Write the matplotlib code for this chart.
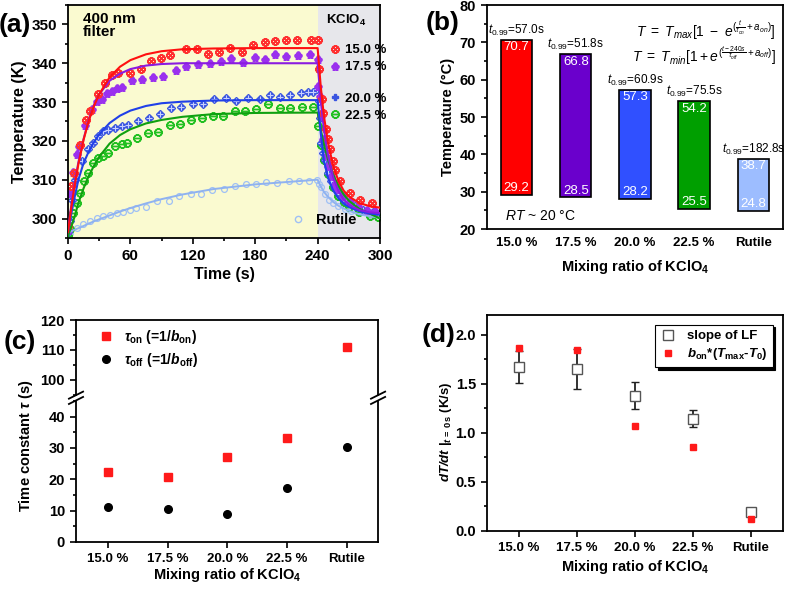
import matplotlib
matplotlib.use('Agg')
import matplotlib.pyplot as plt
from matplotlib.ticker import MultipleLocator
from matplotlib.lines import Line2D

plt.rcParams['font.family'] = ['Liberation Sans', 'DejaVu Sans']
plt.rcParams['mathtext.fontset'] = 'custom'
plt.rcParams['mathtext.rm'] = 'Liberation Sans'
plt.rcParams['mathtext.it'] = 'Liberation Sans:italic'
plt.rcParams['mathtext.bf'] = 'Liberation Sans:italic:bold'
plt.rcParams['mathtext.sf'] = 'Liberation Sans:bold'
plt.rcParams['axes.linewidth'] = 1.3

# ---------------- data: panel (a) ----------------
red_t = [0, 3, 6, 11.6, 17, 21, 29, 36, 42, 48, 60, 70, 80, 89, 98, 113, 124, 135, 145, 156, 167, 178,
         189, 199, 210, 220, 234, 240, 241.6, 244, 245.5, 248, 250.3, 252, 254.5, 256.7, 261.5, 271, 281, 292]
red_T = [298, 308.3, 311.8, 319, 325.5, 327.7, 332, 335, 337.1, 337.6, 337.6, 338.6, 340.5, 341.4, 342,
         343.6, 343.7, 342.5, 342.9, 344, 343, 344.8, 345.4, 345.7, 346, 346.1, 346.1, 346.1, 338.4, 330.7,
         327.2, 323, 320.4, 317.8, 314.8, 312.6, 309.6, 306.6, 304.9, 303.9]

pur_t = [0, 2, 5, 8.4, 10.6, 16.4, 22.8, 27.6, 32.4, 37.2, 42, 46.8, 51.6, 61.3, 70.9, 82, 91.7, 104.2,
         113.8, 125, 136.3, 147.5, 157, 168.3, 179.5, 189, 198.8, 210, 221, 232.4, 240.4, 240.5, 242,
         243.6, 245.2, 247.8, 250, 253.2, 256.4, 259.6, 264.4, 271, 279, 287, 295]
pur_T = [297, 306.6, 312, 316.5, 318.6, 324.2, 328.1, 330.2, 330.7, 332.4, 332.8, 333.7, 334, 335.8, 336,
         336.4, 336.7, 338.2, 339.4, 339.7, 340.1, 340.5, 341.4, 340.4, 341.6, 341, 342.3, 341.8, 342,
         342.5, 341.2, 334.1, 331.5, 326.4, 320.4, 316, 313.5, 310.9, 308.8, 307.5, 305.8, 304.5, 303.2,
         302.3, 301.9]

blu_t = [0, 2, 4.2, 6.7, 13.8, 19, 24.4, 29.2, 34, 38.8, 45.2, 51.6, 58, 67.7, 77.9, 88.5, 99.4, 109,
         120.2, 129.8, 140.4, 151.6, 161.9, 173, 184.3, 194, 203.6, 213.8, 224.4, 230.8, 235.6, 239.8,
         241.5, 242, 243.6, 245.2, 246.8, 250, 253.2, 256.4, 261.2, 267.7, 275.7, 283.7, 293.3]
blu_T = [296.5, 299.3, 304.9, 310, 314.8, 317.8, 319.5, 321.2, 322.5, 322.9, 323.4, 323.8, 324.2, 325.1,
         326, 326.8, 328.5, 328.8, 329.6, 329.6, 330.9, 331.1, 330.2, 331.1, 330.9, 331.8, 331.3, 331.7,
         332.4, 332.6, 332.6, 333.3, 330.2, 326, 319.5, 316.9, 315.2, 311.8, 309.6, 307.9, 306.2, 304.5,
         303.2, 302.3, 301.6]

grn_t = [0, 2, 5.2, 8.4, 11.6, 15.8, 19.6, 24.4, 29.2, 34, 38.8, 45.2, 51.6, 56.4, 66, 76.6, 86.9, 98,
         107.4, 118, 128.9, 139.4, 149, 160.3, 170.6, 181.2, 192.4, 203.6, 213.8, 225, 235.6, 240.4, 243,
         246, 250, 255, 260, 265, 270, 280, 290, 298]
grn_T = [295.5, 297.2, 301.5, 304, 306.6, 309.6, 311.8, 314.4, 315.6, 316.1, 316.9, 318.6, 319.1, 319.5,
         320.8, 322.1, 322.3, 324.2, 324.4, 325.3, 325.9, 326.5, 326.4, 327.7, 327.7, 328.3, 329.4, 328.4,
         328.4, 328.7, 328.8, 323.8, 319, 315, 311.5, 308.2, 305.8, 304.2, 303, 301.6, 300.7, 300.3]

rut_t = [0, 2, 8.4, 14.8, 21.2, 27.6, 34, 40.4, 46.8, 53.2, 59.6, 65.7, 75.3, 86, 97, 106.5, 117.8,
         127.4, 138.6, 149.9, 160.4, 170.7, 180.3, 189.9, 201.1, 212.3, 221.9, 231.5, 239.5, 241.6, 243.6,
         246.8, 251, 254.8, 260, 266, 272, 280, 290]
rut_T = [295.8, 296.3, 297.6, 298.5, 299.3, 300.2, 300.6, 301, 301.3, 301.6, 302.3, 302.7, 303, 304.5,
         304.5, 305.8, 306.2, 306.2, 307.3, 307.6, 308.5, 308.8, 308.9, 309.4, 309.2, 309.6, 309.6, 309.6,
         310, 308.8, 308, 306.2, 304.9, 304, 303.2, 302.5, 302, 301.5, 300.8]

# fitted curves
fit_t = [0, 3, 6, 10, 15, 20, 25, 30, 40, 50, 60, 75, 90, 110, 140, 180, 240,
         240, 243, 246, 250, 255, 260, 265, 270, 280, 290, 300]
fit_red = [296.5, 302.5, 307.8, 314, 320.3, 325.2, 329, 332, 336.4, 339.1, 340.8, 342.3, 343.1, 343.6,
           343.8, 343.9, 343.9,
           343.9, 334, 326.5, 319.5, 313.5, 309.7, 307.2, 305.7, 304, 303.2, 302.8]
fit_pur = [297, 303, 308.5, 314.5, 320.5, 325.5, 329.3, 332, 335.5, 337.3, 338.5, 339.4, 339.8, 340,
           340, 340, 340,
           340, 330.4, 323.1, 316.2, 310.6, 307.1, 304.9, 303.5, 302.2, 301.6, 301.4]
fit_blu = [296.5, 301, 305, 310, 314.3, 317.3, 319.7, 321.7, 324.6, 326.5, 327.8, 329, 329.7, 330.1,
           330.4, 330.5, 330.5,
           330.5, 322, 315, 310.5, 307.2, 305.2, 303.8, 303, 301.9, 301.3, 301]
fit_grn = [295.5, 297.8, 300.2, 304, 307.8, 311, 313.6, 315.9, 319.3, 321.5, 323, 324.5, 325.4, 326.2,
           326.9, 327.2, 327.3,
           327.3, 322.9, 319.2, 315.2, 311.3, 308.4, 306.2, 304.6, 302.5, 301.3, 300]
fit_rut = [296.3, 296.7, 297.1, 297.5, 298.1, 298.7, 299.3, 299.8, 300.8, 301.8, 302.7, 303.9, 305, 306.2,
           307.6, 308.8, 310,
           310, 308.3, 306.9, 305.6, 304.3, 303.3, 302.6, 302, 301.1, 300.6, 300.2]

# ---------------- data: panels (b)-(d) ----------------
categories = ['15.0 %', '17.5 %', '20.0 %', '22.5 %', 'Rutile']
T_max = [70.7, 66.8, 57.3, 54.2, 38.7]
T_min = [29.2, 28.5, 28.2, 25.5, 24.8]
t099 = ['57.0', '51.8', '60.9', '75.5', '182.8']
bar_colors = ['#ff0000', '#6a00cc', '#3050ff', '#009f00', '#9dbdff']

tau_on = [22.2, 20.9, 27.1, 33.3, 111.1]
tau_off = [11.2, 10.5, 8.8, 17.2, 30.3]

slope_lf = [1.67, 1.65, 1.38, 1.145, 0.19]
slope_err = [0.16, 0.20, 0.14, 0.085, 0.03]
bon_dT = [1.86, 1.84, 1.07, 0.855, 0.12]

xpos = list(range(len(categories)))

fig = plt.figure(figsize=(7.86, 5.89), dpi=100)

BOLD = dict(fontweight='bold')

def style_ticks(ax, size=10.5):
    ax.tick_params(which='both', direction='out', top=False, right=False, width=1.2)
    ax.tick_params(which='major', length=4.5, labelsize=size)
    ax.tick_params(which='minor', length=2.5)
    for lab in ax.get_xticklabels() + ax.get_yticklabels():
        lab.set_fontweight('bold')

# ================= (a) =================
axa = fig.add_axes([0.0865, 0.596, 0.397, 0.3955])
axa.axvspan(0, 240, color='#fafad0', zorder=0, lw=0)
axa.axvspan(240, 300, color='#e7e7eb', zorder=0, lw=0)
ms = 5.2
axa.plot(rut_t, rut_T, 'o', ms=4.2, mfc='none', mec='#9fc0f5', mew=0.9, zorder=2)
axa.plot(grn_t, grn_T, ls='none', marker=r'$\ominus$', ms=ms, color='#22c022', zorder=2)
axa.plot(blu_t, blu_T, ls='none', marker='D', ms=3.8, color='#3a55e0', zorder=2)
axa.plot(blu_t, blu_T, ls='none', marker='+', ms=3.8, mew=0.8, color='#c8d0ff', zorder=2)
axa.plot(pur_t, pur_T, ls='none', marker=r'$\clubsuit$', ms=ms, color='#9a30ee', zorder=2)
axa.plot(red_t, red_T, ls='none', marker=r'$\otimes$', ms=ms, color='#ff3030', zorder=2)

axa.plot(fit_t, fit_rut, color='#8fb2f0', lw=1.4, zorder=3)
axa.plot(fit_t, fit_grn, color='#10a010', lw=1.5, zorder=3)
axa.plot(fit_t, fit_blu, color='#2040e8', lw=1.5, zorder=3)
axa.plot(fit_t, fit_pur, color='#8a1be0', lw=1.5, zorder=3)
axa.plot(fit_t, fit_red, color='#ff1010', lw=1.5, zorder=3)

axa.set_xlim(0, 300)
axa.set_ylim(295, 355)
axa.xaxis.set_major_locator(MultipleLocator(60))
axa.xaxis.set_minor_locator(MultipleLocator(30))
axa.yaxis.set_major_locator(MultipleLocator(10))
axa.yaxis.set_minor_locator(MultipleLocator(5))
axa.set_xlabel('Time (s)', fontsize=11.5, labelpad=3, **BOLD)
axa.set_ylabel('Temperature (K)', fontsize=11.5, labelpad=3, **BOLD)
style_ticks(axa, 11)

axa.text(0.048, 0.97, '400 nm\nfilter', transform=axa.transAxes, fontsize=11, va='top',
         linespacing=0.9, **BOLD)
axa.text(0.955, 0.935, r'KClO$_\mathsf{4}$', transform=axa.transAxes, fontsize=9.5, ha='right',
         va='center', **BOLD)

def hnd(marker, color, ms_=5.2, **kw):
    return Line2D([], [], ls='none', marker=marker, color=color, ms=ms_, **kw)

leg_kw = dict(frameon=False, handlelength=0.8, handletextpad=0.35, labelspacing=0.35,
              borderpad=0, borderaxespad=0, loc='center left',
              prop={'weight': 'bold', 'size': 9.5})
l1 = axa.legend([hnd(r'$\otimes$', '#ff3030'), hnd(r'$\clubsuit$', '#9a30ee')],
                ['15.0 %', '17.5 %'], bbox_to_anchor=(0.838, 0.77), **leg_kw)
axa.add_artist(l1)
l2 = axa.legend([hnd('P', '#3a55e0', 5), hnd(r'$\ominus$', '#22c022')],
                ['20.0 %', '22.5 %'], bbox_to_anchor=(0.838, 0.562), **leg_kw)
axa.add_artist(l2)
axa.legend([hnd('o', '#9fc0f5', 4.5, mfc='none')], ['Rutile'],
           bbox_to_anchor=(0.72, 0.075), **{**leg_kw, 'prop': {'weight': 'bold', 'size': 10.5},
                                           'handletextpad': 0.8})

# ================= (b) =================
axb = fig.add_axes([0.6196, 0.611, 0.3764, 0.3803])
heights = [hi - lo for hi, lo in zip(T_max, T_min)]
axb.bar(xpos, heights, bottom=T_min, width=0.53, color=bar_colors, edgecolor='black', lw=1.2, zorder=2)
for x, hi, lo, tt in zip(xpos, T_max, T_min, t099):
    axb.text(x, hi - 0.3, f'{hi:.1f}', ha='center', va='top', color='white', fontsize=9.5, zorder=3)
    axb.text(x, lo + 0.2, f'{lo:.1f}', ha='center', va='bottom', color='white', fontsize=9.5, zorder=3)
    axb.text(x, hi + 0.6, r'$t_{0.99}$=' + tt + 's', ha='center', va='bottom', fontsize=8.5)
axb.set_xlim(-0.5, 4.5)
axb.set_ylim(20, 80)
axb.set_xticks(xpos)
axb.set_xticklabels(categories)
axb.yaxis.set_major_locator(MultipleLocator(10))
axb.yaxis.set_minor_locator(MultipleLocator(5))
axb.set_xlabel(r'Mixing ratio of KClO$_\mathsf{4}$', fontsize=10.5, labelpad=6, **BOLD)
axb.set_ylabel('Temperature (°C)', fontsize=10.5, labelpad=3, **BOLD)
style_ticks(axb, 10.5)
axb.tick_params(axis='x', labelsize=9.5, length=0, pad=6)
for lab in axb.get_xticklabels():
    lab.set_fontweight('bold')
axb.text(0.975, 0.885, r'$T\ =\ T_{max}[1\ -\ e^{(\frac{t}{\tau_{on}}+a_{on})}]$', transform=axb.transAxes,
         ha='right', va='center', fontsize=10)
axb.text(0.975, 0.775, r'$T\ =\ T_{min}[1+e^{(\frac{t-240s}{\tau_{off}}+a_{off})}]$', transform=axb.transAxes,
         ha='right', va='center', fontsize=10)
axb.text(0.06, 0.06, r'$RT$ ~ 20 °C', transform=axb.transAxes, ha='left', va='center', fontsize=10)

# ================= (c) =================
axc_lo = fig.add_axes([0.0967, 0.0798, 0.3843, 0.2394])
axc_hi = fig.add_axes([0.0967, 0.3294, 0.3843, 0.1273])
for ax in (axc_lo, axc_hi):
    ax.plot(xpos, tau_on, 's', color='#ff1a1a', ms=5.5, zorder=3)
    ax.plot(xpos, tau_off, 'o', color='black', ms=5.5, zorder=3)
    ax.set_xlim(-0.53, 4.52)
axc_lo.set_ylim(0, 45)
axc_hi.set_ylim(95, 120)
axc_lo.spines['top'].set_visible(False)
axc_hi.spines['bottom'].set_visible(False)
axc_lo.yaxis.set_major_locator(MultipleLocator(10))
axc_lo.yaxis.set_minor_locator(MultipleLocator(5))
axc_hi.yaxis.set_major_locator(MultipleLocator(10))
axc_hi.yaxis.set_minor_locator(MultipleLocator(5))
axc_lo.set_xticks(xpos)
axc_lo.set_xticklabels(categories)
style_ticks(axc_lo, 10.5)
style_ticks(axc_hi, 10.5)
axc_hi.tick_params(axis='x', which='both', bottom=False, labelbottom=False, top=False)
axc_lo.tick_params(axis='x', labelsize=9.5)
for lab in axc_lo.get_xticklabels():
    lab.set_fontweight('bold')
axc_lo.set_xlabel(r'Mixing ratio of KClO$_\mathsf{4}$', fontsize=10.5, labelpad=1, **BOLD)
fig.text(0.033, 0.243, r'Time constant $\mathbf{\tau}$ (s)', rotation=90, ha='center', va='center',
         fontsize=10.5, **BOLD)
yb = 0.3246
for xf in (0.0967, 0.0967 + 0.3843):
    for off in (-0.0045, 0.0045):
        fig.add_artist(Line2D([xf - 0.009, xf + 0.009], [yb + off - 0.006, yb + off + 0.006],
                              color='black', lw=1.3, transform=fig.transFigure))
axc_hi.legend([Line2D([], [], ls='none', marker='s', color='#ff1a1a', ms=5.5),
               Line2D([], [], ls='none', marker='o', color='black', ms=5.5)],
              [r'$\mathbf{\tau}_\mathsf{on}$ (=1/$\mathbf{b}_\mathsf{on}$)',
               r'$\mathbf{\tau}_\mathsf{off}$ (=1/$\mathbf{b}_\mathsf{off}$)'],
              frameon=False, loc='center left', bbox_to_anchor=(0.075, 0.62), borderpad=0,
              borderaxespad=0, handlelength=1.0, handletextpad=0.8, labelspacing=0.4,
              prop={'weight': 'bold', 'size': 10})

# ================= (d) =================
axd = fig.add_axes([0.6196, 0.0985, 0.3764, 0.3667])
axd.errorbar(xpos, slope_lf, yerr=slope_err, fmt='s', ms=7.5, mfc='white', mec='#555555', mew=1.0,
             ecolor='#222222', elinewidth=1.3, capsize=3, capthick=1.3, zorder=2)
axd.plot(xpos, bon_dT, 's', color='#ff1a1a', ms=4, zorder=3)
axd.set_xlim(-0.55, 4.55)
axd.set_ylim(0, 2.2)
axd.set_xticks(xpos)
axd.set_xticklabels(categories)
axd.yaxis.set_major_locator(MultipleLocator(0.5))
axd.yaxis.set_minor_locator(MultipleLocator(0.25))
style_ticks(axd, 10.5)
axd.tick_params(axis='x', labelsize=9.5)
for lab in axd.get_xticklabels():
    lab.set_fontweight('bold')
axd.set_xlabel(r'Mixing ratio of KClO$_\mathsf{4}$', fontsize=10.5, labelpad=3, **BOLD)
ylab = axd.set_ylabel(r'$\mathbf{dT/dt}$ |$_{\mathbf{t}\,\mathsf{=\,0\,s}}$ (K/s)', fontsize=9.5,
                      labelpad=2, **BOLD)
axd.yaxis.set_label_coords(-0.11, 0.46)
lg = axd.legend([Line2D([], [], ls='none', marker='s', ms=7.5, mfc='white', mec='#555555', mew=1.0),
                 Line2D([], [], ls='none', marker='s', ms=4, color='#ff1a1a')],
                ['slope of LF', r'$\mathbf{b}_\mathsf{on}$*($\mathbf{T}_\mathsf{max}$-$\mathbf{T}_\mathsf{0}$)'],
                loc='upper right', bbox_to_anchor=(0.965, 0.955), borderaxespad=0, fancybox=False,
                edgecolor='black', framealpha=1, shadow={'color': 'black', 'alpha': 1},
                handlelength=1.2, handletextpad=0.8, labelspacing=0.3, borderpad=0.4,
                prop={'weight': 'bold', 'size': 9.5})
lg.get_frame().set_linewidth(0.8)

# panel labels
for x, y, s in [(0.019, 0.957, '(a)'), (0.5636, 0.961, '(b)'), (0.0254, 0.419, '(c)'),
                (0.558, 0.432, '(d)')]:
    fig.text(x, y, s, fontsize=19, ha='center', va='center', **BOLD)

fig.savefig('out.png', dpi=100)
